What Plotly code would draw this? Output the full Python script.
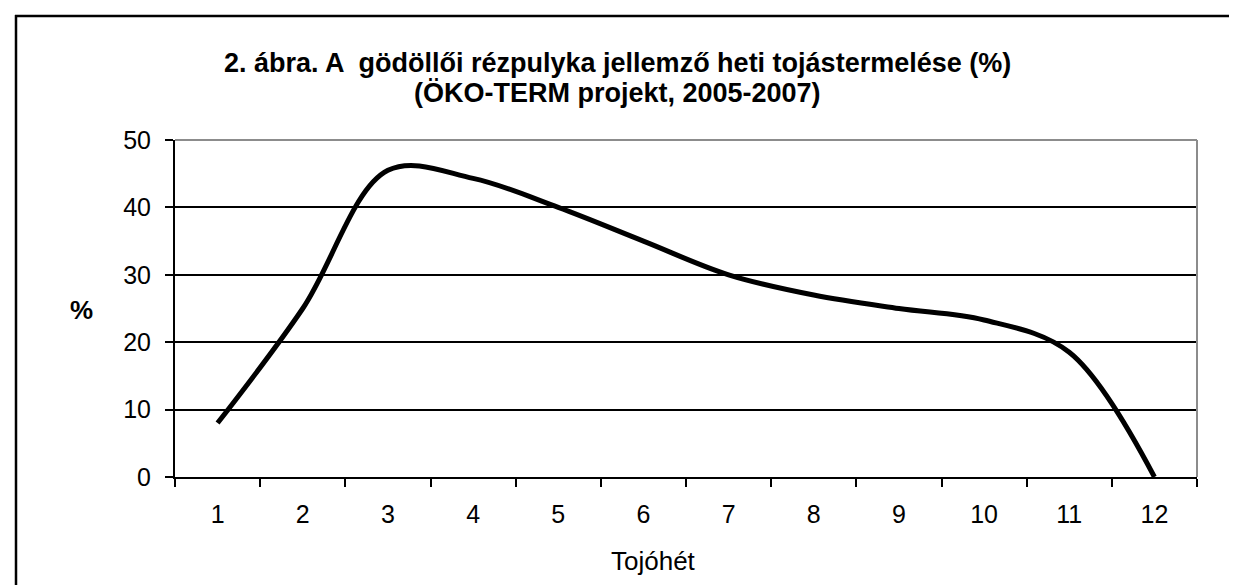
import plotly.graph_objects as go

weeks = ["1", "2", "3", "4", "5", "6", "7", "8", "9", "10", "11", "12"]
production = [8, 25, 45.5, 44.3, 40, 35, 30, 27, 25, 23.3, 18.5, 0]
y_ticks = [0, 10, 20, 30, 40, 50]

W, H = 1237, 585
L, R, T, B = 167, 48, 132, 116
pw, ph = W - L - R, H - T - B

def px(x):
    return (x - L) / pw

def py(y):
    return 1 - (y - T) / ph

FONT = "Liberation Sans, Arial, sans-serif"

fig = go.Figure()
fig.add_trace(go.Scatter(
    x=weeks, y=production, mode="lines",
    line=dict(color="black", width=5, shape="spline", smoothing=1.0),
    showlegend=False, hoverinfo="skip",
))

fig.update_layout(
    width=W, height=H,
    margin=dict(l=L, r=R, t=T, b=B),
    paper_bgcolor="white", plot_bgcolor="white",
    font=dict(family=FONT, color="black", size=25),
    xaxis=dict(
        type="category", categoryorder="array", categoryarray=weeks,
        range=[-0.5, 11.5],
        showline=True, linecolor="black", linewidth=2,
        ticks="outside", tickson="boundaries", ticklen=8, tickwidth=2, tickcolor="black",
        showgrid=False, zeroline=False,
        tickfont=dict(size=25, family=FONT), ticklabelstandoff=14,
    ),
    yaxis=dict(
        range=[0, 50], tickvals=y_ticks,
        showline=True, linecolor="black", linewidth=2,
        ticks="outside", ticklen=8, tickwidth=2, tickcolor="black",
        showgrid=True, gridcolor="black", gridwidth=1.5,
        zeroline=False,
        tickfont=dict(size=25, family=FONT), ticklabelstandoff=9,
    ),
    shapes=[
        dict(type="line", xref="paper", yref="paper", x0=0, x1=1, y0=1, y1=1,
             line=dict(color="#8c8c8c", width=2), layer="above"),
        dict(type="line", xref="paper", yref="paper", x0=1, x1=1, y0=0, y1=1,
             line=dict(color="#8c8c8c", width=2), layer="above"),
        dict(type="line", xref="paper", yref="paper", x0=px(7), x1=px(W + 5), y0=py(8), y1=py(8),
             line=dict(color="black", width=2.5), layer="above"),
        dict(type="line", xref="paper", yref="paper", x0=px(8), x1=px(8), y0=py(7), y1=py(H + 5),
             line=dict(color="black", width=2.5), layer="above"),
    ],
    annotations=[
        dict(text="<b>2. ábra. A  gödöllői rézpulyka jellemző heti tojástermelése (%)</b>",
             xref="paper", yref="paper", x=px(609), y=py(55), xanchor="center", yanchor="middle",
             showarrow=False, font=dict(size=27, family=FONT)),
        dict(text="<b>(ÖKO-TERM projekt, 2005-2007)</b>",
             xref="paper", yref="paper", x=px(609), y=py(85), xanchor="center", yanchor="middle",
             showarrow=False, font=dict(size=27, family=FONT)),
        dict(text="<b>%</b>", xref="paper", yref="paper", x=px(73), y=py(302),
             xanchor="center", yanchor="middle", showarrow=False, font=dict(size=26, family=FONT)),
        dict(text="Tojóhét", xref="paper", yref="paper", x=px(645), y=py(553),
             xanchor="center", yanchor="middle", showarrow=False, font=dict(size=26, family=FONT)),
    ],
)

fig.write_html("out.html")
